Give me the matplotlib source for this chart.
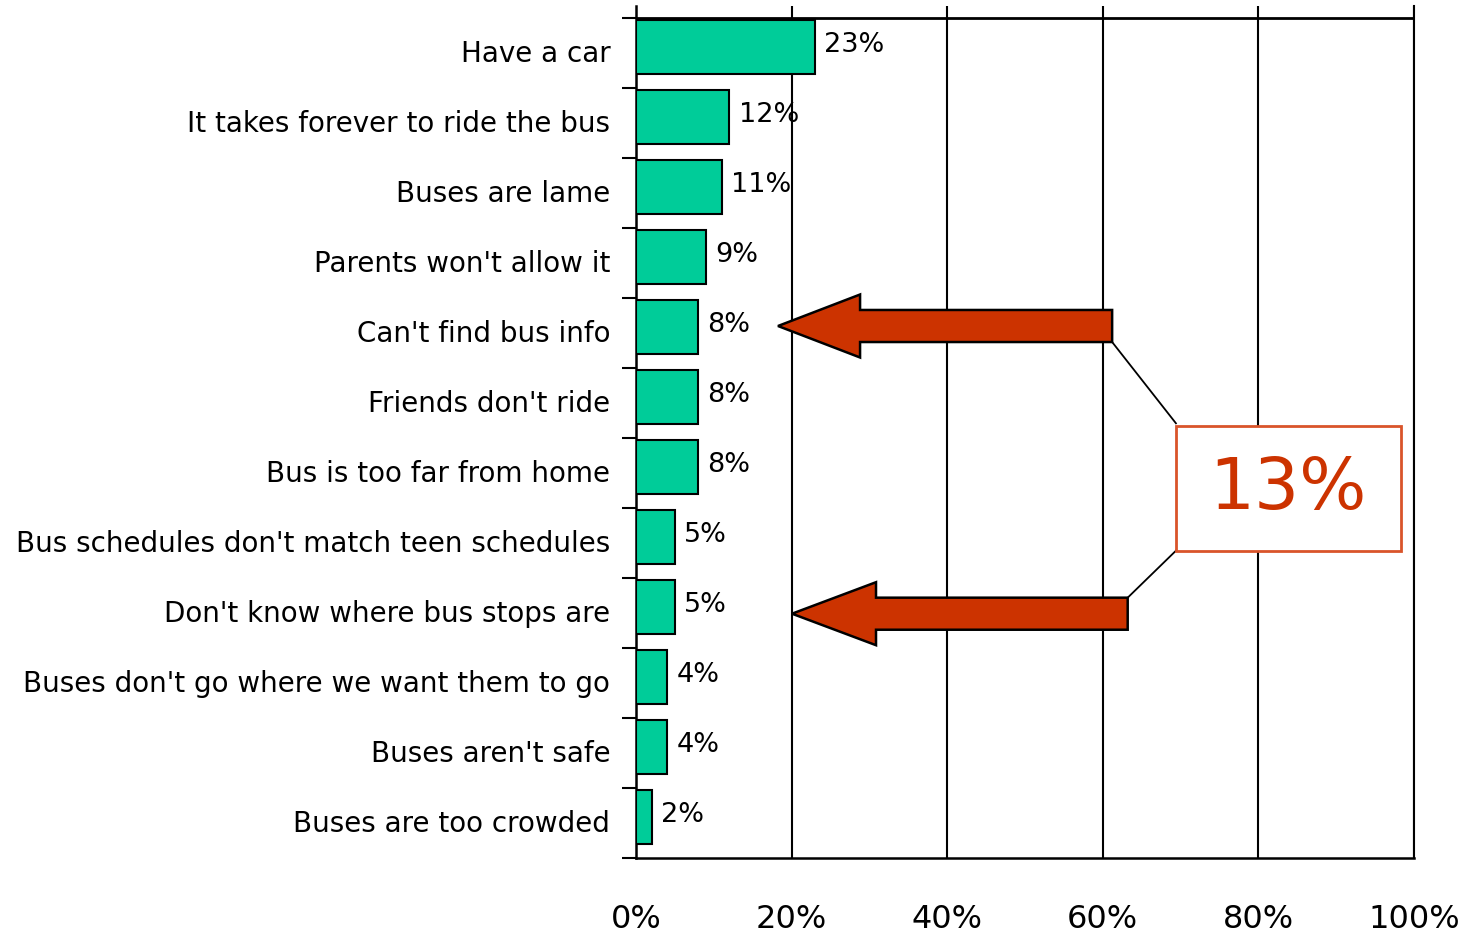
import matplotlib
matplotlib.use("Agg")
import matplotlib.pyplot as plt
from matplotlib.patches import Polygon, Rectangle
from matplotlib.ticker import FixedLocator, NullFormatter

plt.rcParams['font.family'] = ['DejaVu Sans']

categories = ["Have a car", "It takes forever to ride the bus", "Buses are lame",
              "Parents won't allow it", "Can't find bus info", "Friends don't ride",
              "Bus is too far from home", "Bus schedules don't match teen schedules",
              "Don't know where bus stops are", "Buses don't go where we want them to go",
              "Buses aren't safe", "Buses are too crowded"]
values = [23, 12, 11, 9, 8, 8, 8, 5, 5, 4, 4, 2]
value_labels = ["23%", "12%", "11%", "9%", "8%", "8%", "8%", "5%", "5%", "4%", "4%", "2%"]
x_ticks = [0, 20, 40, 60, 80, 100]
x_tick_labels = ["0%", "20%", "40%", "60%", "80%", "100%"]
callout_text = "13%"

bar_color = "#00CC99"
arrow_color = "#CC3300"

fig = plt.figure(figsize=(14.77, 9.33), dpi=100)
ax = fig.add_axes([636/1477, 1 - 858/933, 778/1477, 852/933])

n = len(categories)
ypos = [i - 0.08 for i in range(n)]
ax.barh(ypos, values, height=0.77, color=bar_color, edgecolor="black", linewidth=1.5, zorder=3)
for y, v, lab in zip(ypos, values, value_labels):
    ax.text(v + 1.2, y - 0.03, lab, fontsize=19.5, va="center", ha="left", zorder=5)

ax.set_xlim(0, 100)
ax.set_ylim(n - 0.5, -0.5 - 12/70)

# grid lines
for gx in x_ticks[1:]:
    ax.axvline(gx, color="black", lw=1.5, zorder=1)
ax.axhline(-0.5, color="black", lw=2, zorder=4)

ax.spines["top"].set_visible(False)
for side in ["left", "bottom"]:
    ax.spines[side].set_linewidth(1.8)
ax.spines["right"].set_linewidth(1.5)

ax.yaxis.set_major_locator(FixedLocator([i - 0.5 for i in range(n + 1)]))
ax.yaxis.set_major_formatter(NullFormatter())
ax.yaxis.set_minor_locator(FixedLocator([i - 0.03 for i in range(n)]))
ax.set_yticklabels(categories, minor=True, fontsize=20)
ax.tick_params(axis="y", which="major", length=10, width=1.5, direction="out")
ax.tick_params(axis="y", which="minor", length=0, pad=18.5)

ax.set_xticks(x_ticks)
ax.set_xticklabels(x_tick_labels, fontsize=23)
ax.tick_params(axis="x", length=0, pad=33)

# arrows pointing from callout box
def left_arrow(tip_x, y, head_x, end_x, half_shaft=0.229, half_head=0.45):
    pts = [(tip_x, y), (head_x, y - half_head), (head_x, y - half_shaft),
           (end_x, y - half_shaft), (end_x, y + half_shaft), (head_x, y + half_shaft),
           (head_x, y + half_head)]
    ax.add_patch(Polygon(pts, closed=True, facecolor=arrow_color, edgecolor="black",
                         lw=1.8, zorder=6, clip_on=False))

left_arrow(18.25, 3.9, 28.8, 61.2)
left_arrow(20.05, 8.01, 30.85, 63.2)

box_x0, box_x1 = 69.4, 98.3
box_y0, box_y1 = 5.33, 7.11
ax.add_patch(Rectangle((box_x0, box_y0), box_x1 - box_x0, box_y1 - box_y0,
                       facecolor="white", edgecolor="#D9542A", lw=2, zorder=6))
ax.text((box_x0 + box_x1) / 2, (box_y0 + box_y1) / 2 + 0.02, callout_text,
        fontsize=51, color=arrow_color, ha="center", va="center", zorder=7)
ax.plot([61.2, box_x0], [3.9 + 0.229, box_y0 - 0.04], color="black", lw=1.3, zorder=5)
ax.plot([box_x0, 63.2], [box_y1, 8.01 - 0.229], color="black", lw=1.3, zorder=5)

fig.savefig("out.png", dpi=100)
